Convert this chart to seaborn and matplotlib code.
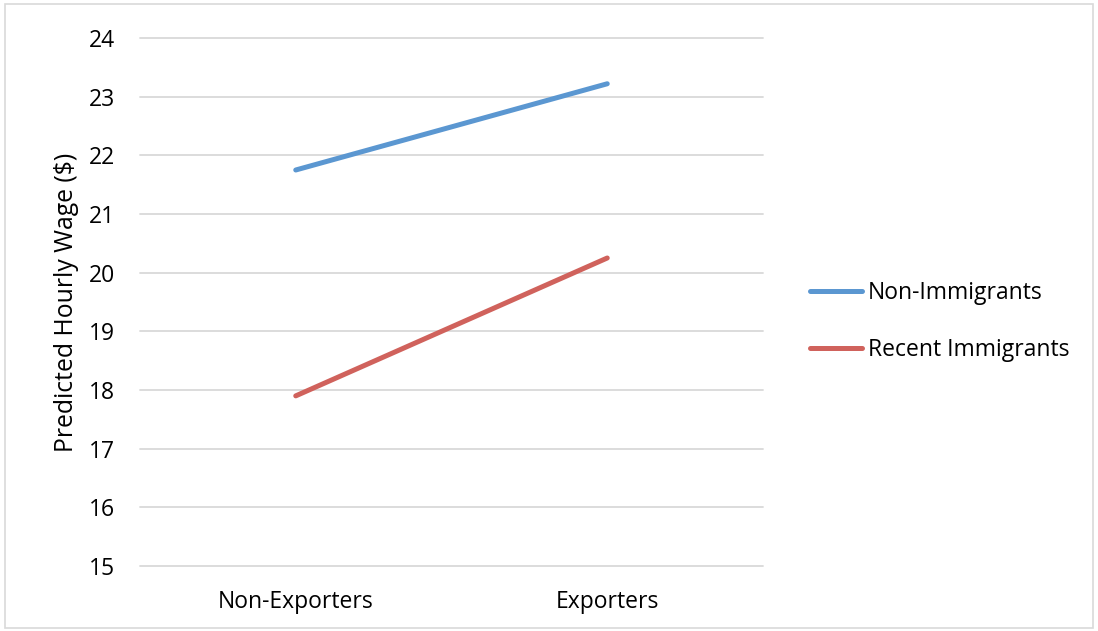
import matplotlib
matplotlib.use("Agg")
import matplotlib.pyplot as plt
import seaborn as sns
import pandas as pd
from matplotlib.patches import Rectangle

categories = ["Non-Exporters", "Exporters"]
non_immigrants = [21.75, 23.22]
recent_immigrants = [17.9, 20.25]
series_names = ["Non-Immigrants", "Recent Immigrants"]
yticks = [15, 16, 17, 18, 19, 20, 21, 22, 23, 24]

rows = []
for name, vals in zip(series_names, [non_immigrants, recent_immigrants]):
    for i, (c, v) in enumerate(zip(categories, vals)):
        rows.append({"pos": i, "cat": c, "series": name, "wage": v})
df = pd.DataFrame(rows)

sns.set_style("white")
plt.rcParams["font.family"] = ["Open Sans", "DejaVu Sans"]
plt.rcParams["text.color"] = "black"
plt.rcParams["xtick.color"] = "black"
plt.rcParams["ytick.color"] = "black"
plt.rcParams["axes.labelcolor"] = "black"

FS = 16.5

fig = plt.figure(figsize=(10.98, 6.31), dpi=100)
ax = fig.add_axes([140/1098, 1-566/631, (763-140)/1098, (566-38)/631])

palette = {"Non-Immigrants": "#5B97D1", "Recent Immigrants": "#D0625C"}
sns.lineplot(data=df, x="pos", y="wage", hue="series", palette=palette,
             linewidth=3.6, ax=ax, legend=True, solid_capstyle="round")

ax.set_xlim(-0.5, 1.5)
ax.set_ylim(15, 24)
ax.set_yticks(yticks)
ax.set_yticklabels([str(t) for t in yticks], fontsize=FS)
ax.set_xticks(range(len(categories)))
ax.set_xticklabels(categories, fontsize=FS)
ax.tick_params(axis="y", length=0, pad=18)
ax.tick_params(axis="x", length=0, pad=17)
for s in ax.spines.values():
    s.set_visible(False)
ax.grid(axis="y", color="#D9D9D9", linewidth=1.3)
ax.set_axisbelow(True)
for gl in ax.get_ygridlines():
    gl.set_clip_on(False)
ax.set_xlabel("")
ax.set_ylabel("Predicted Hourly Wage ($)", fontsize=17.8, labelpad=7)

leg = ax.legend(loc="center left", bbox_to_anchor=(1.0425, 0.463), frameon=False,
                fontsize=FS, handlelength=2.27, handletextpad=0.26,
                labelspacing=1.4)
for line in leg.get_lines():
    line.set_linewidth(3.6)

fig.patches.append(Rectangle((5/1098, 3/631), 1088/1098, 624/631,
                             transform=fig.transFigure, fill=False,
                             edgecolor="#D9D9D9", linewidth=1.2))

fig.savefig("out.png", dpi=100)
